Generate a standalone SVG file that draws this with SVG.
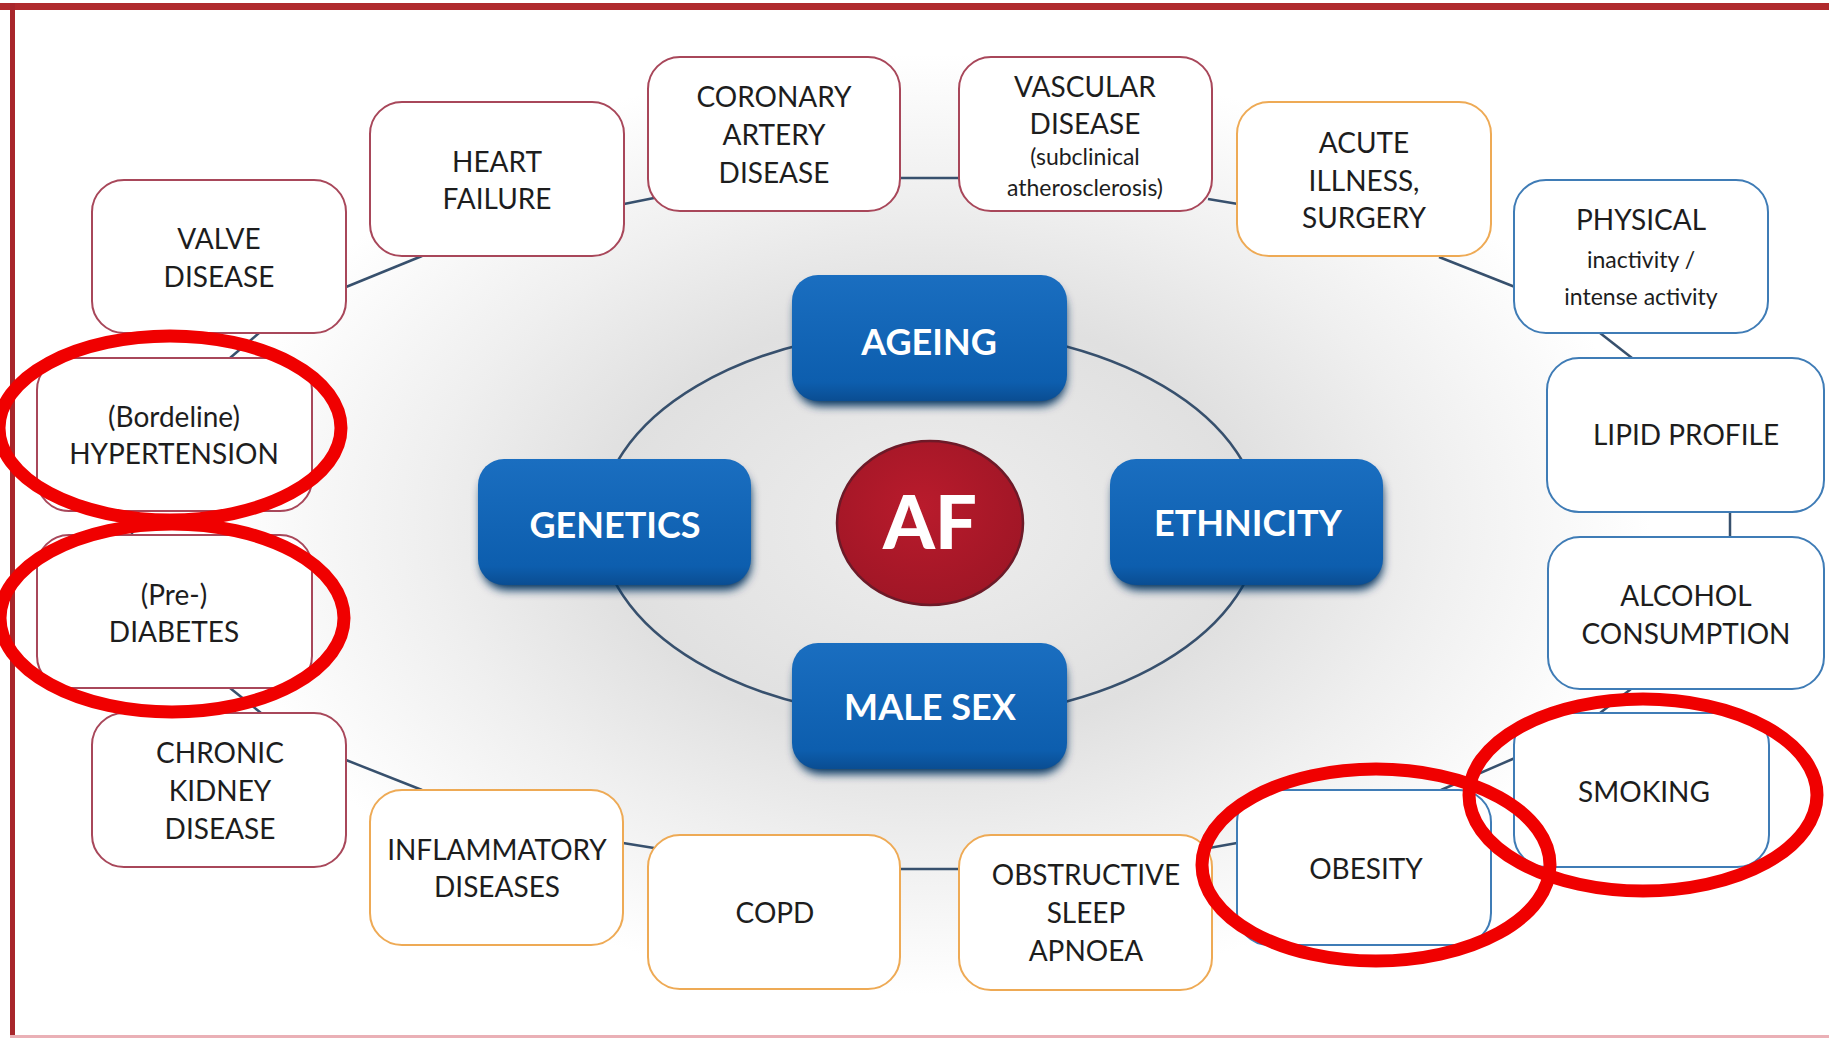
<svg xmlns="http://www.w3.org/2000/svg" width="1829" height="1038" viewBox="0 0 1829 1038">
<defs>
<radialGradient id="bg" cx="930" cy="524" r="1" gradientUnits="userSpaceOnUse" gradientTransform="translate(930 524) scale(720 470) translate(-930 -524)">
<stop offset="0" stop-color="#eeeeee"/>
<stop offset="0.45" stop-color="#e0e0e0"/>
<stop offset="0.7" stop-color="#efefef"/>
<stop offset="1" stop-color="#ffffff"/>
</radialGradient>
<linearGradient id="blue" x1="0" y1="0" x2="0" y2="1">
<stop offset="0" stop-color="#1a6ec0"/>
<stop offset="0.85" stop-color="#0d5eae"/>
<stop offset="1" stop-color="#0a4d92"/>
</linearGradient>
<radialGradient id="red" cx="0.45" cy="0.4" r="0.6">
<stop offset="0" stop-color="#b91b2c"/>
<stop offset="1" stop-color="#a01626"/>
</radialGradient>
<filter id="sh" x="-20%" y="-20%" width="140%" height="150%">
<feGaussianBlur stdDeviation="5"/>
</filter>
</defs>
<style>
.box{fill:#ffffff;stroke-width:2}
.r{stroke:#a8475a}
.o{stroke:#eeaa55}
.b{stroke:#3f7cb6}
.t{font-family:Lato,"Open Sans","Liberation Sans",sans-serif;font-size:28px;fill:#1d1d1d;text-anchor:middle}
.s{font-size:23px}
.wt{font-family:Lato,"Open Sans","Liberation Sans",sans-serif;font-weight:bold;font-size:36px;fill:#ffffff;text-anchor:middle}
.con{stroke:#37506d;stroke-width:2.5;fill:none}
.mark{fill:none;stroke:#f00000;stroke-width:13}
.bb{fill:url(#blue)}
.shd{fill:#06305e;filter:url(#sh)}
</style>
<rect x="0" y="0" width="1829" height="1038" fill="#ffffff"/>
<ellipse cx="930" cy="524" rx="720" ry="470" fill="url(#bg)"/>
<rect x="0" y="3" width="1829" height="7" fill="#b02a2d"/>
<rect x="10" y="3" width="5" height="1035" fill="#a8262b"/>
<rect x="10" y="1035" width="1819" height="3" fill="#eab0b6"/>

<g id="connectors">
<line class="con" x1="346" y1="287" x2="422" y2="256"/>
<line class="con" x1="624" y1="204" x2="654" y2="198"/>
<line class="con" x1="900" y1="178" x2="959" y2="178"/>
<line class="con" x1="1208" y1="199" x2="1238" y2="204"/>
<line class="con" x1="1439" y1="257" x2="1515" y2="287"/>
<line class="con" x1="1600" y1="333" x2="1632" y2="358"/>
<line class="con" x1="1730" y1="512" x2="1730" y2="537"/>
<line class="con" x1="1631" y1="689" x2="1600" y2="713"/>
<line class="con" x1="1515" y1="758" x2="1441" y2="790"/>
<line class="con" x1="1237" y1="843" x2="1209" y2="848"/>
<line class="con" x1="898" y1="869" x2="959" y2="869"/>
<line class="con" x1="654" y1="848" x2="623" y2="843"/>
<line class="con" x1="422" y1="790" x2="346" y2="760"/>
<line class="con" x1="261" y1="713" x2="230" y2="688"/>
<line class="con" x1="132" y1="511" x2="132" y2="535"/>
<line class="con" x1="230" y1="358" x2="259" y2="333"/>
<ellipse class="con" cx="930" cy="524" rx="330" ry="195" stroke-width="2"/>
</g>

<g id="valve"><rect class="box r" x="92" y="180" width="254" height="153" rx="32"/><text class="t" x="219" y="249">VALVE</text><text class="t" x="219" y="287">DISEASE</text></g>
<g id="heart-failure"><rect class="box r" x="370" y="102" width="254" height="154" rx="32"/><text class="t" x="497" y="172">HEART</text><text class="t" x="497" y="209">FAILURE</text></g>
<g id="coronary"><rect class="box r" x="648" y="57" width="252" height="154" rx="32"/><text class="t" x="774" y="107">CORONARY</text><text class="t" x="774" y="145">ARTERY</text><text class="t" x="774" y="183">DISEASE</text></g>
<g id="vascular"><rect class="box r" x="959" y="57" width="253" height="154" rx="32"/><text class="t" x="1085" y="97">VASCULAR</text><text class="t" x="1085" y="134">DISEASE</text><text class="t s" x="1085" y="165">(subclinical</text><text class="t s" x="1085" y="196">atherosclerosis)</text></g>
<g id="acute"><rect class="box o" x="1237" y="102" width="254" height="154" rx="32"/><text class="t" x="1364" y="153">ACUTE</text><text class="t" x="1364" y="191">ILLNESS,</text><text class="t" x="1364" y="228">SURGERY</text></g>
<g id="physical"><rect class="box b" x="1514" y="180" width="254" height="153" rx="32"/><text class="t" x="1641" y="230">PHYSICAL</text><text class="t s" x="1641" y="268">inactivity /</text><text class="t s" x="1641" y="305">intense activity</text></g>
<g id="lipid"><rect class="box b" x="1547" y="358" width="277" height="154" rx="32"/><text class="t" x="1686" y="445">LIPID PROFILE</text></g>
<g id="alcohol"><rect class="box b" x="1548" y="537" width="276" height="152" rx="32"/><text class="t" x="1686" y="606">ALCOHOL</text><text class="t" x="1686" y="644">CONSUMPTION</text></g>
<g id="smoking"><rect class="box b" x="1514" y="713" width="255" height="154" rx="32"/><text class="t" x="1644" y="802">SMOKING</text></g>
<g id="obesity"><rect class="box b" x="1237" y="790" width="254" height="155" rx="32"/><text class="t" x="1366" y="879">OBESITY</text></g>
<g id="osa"><rect class="box o" x="959" y="835" width="253" height="155" rx="32"/><text class="t" x="1086" y="885">OBSTRUCTIVE</text><text class="t" x="1086" y="923">SLEEP</text><text class="t" x="1086" y="961">APNOEA</text></g>
<g id="copd"><rect class="box o" x="648" y="835" width="252" height="154" rx="32"/><text class="t" x="775" y="923">COPD</text></g>
<g id="inflammatory"><rect class="box o" x="370" y="790" width="253" height="155" rx="32"/><text class="t" x="497" y="860">INFLAMMATORY</text><text class="t" x="497" y="897">DISEASES</text></g>
<g id="ckd"><rect class="box r" x="92" y="713" width="254" height="154" rx="32"/><text class="t" x="220" y="763">CHRONIC</text><text class="t" x="220" y="801">KIDNEY</text><text class="t" x="220" y="839">DISEASE</text></g>
<g id="diabetes"><rect class="box r" x="37" y="535" width="275" height="153" rx="32"/><text class="t" x="174" y="605">(Pre-)</text><text class="t" x="174" y="642">DIABETES</text></g>
<g id="hypertension"><rect class="box r" x="37" y="358" width="275" height="153" rx="32"/><text class="t" x="174" y="427">(Bordeline)</text><text class="t" x="174" y="464">HYPERTENSION</text></g>

<g id="ageing"><rect class="shd" x="795" y="284" width="271" height="122" rx="26"/><rect class="bb" x="792" y="275" width="275" height="126" rx="26"/><text class="wt" x="929" y="355">AGEING</text></g>
<g id="genetics"><rect class="shd" x="481" y="468" width="270" height="122" rx="26"/><rect class="bb" x="478" y="459" width="273" height="126" rx="26"/><text class="wt" x="615" y="538">GENETICS</text></g>
<g id="ethnicity"><rect class="shd" x="1113" y="468" width="270" height="122" rx="26"/><rect class="bb" x="1110" y="459" width="273" height="126" rx="26"/><text class="wt" x="1248" y="536">ETHNICITY</text></g>
<g id="male-sex"><rect class="shd" x="795" y="652" width="271" height="122" rx="26"/><rect class="bb" x="792" y="643" width="275" height="126" rx="26"/><text class="wt" x="930" y="720">MALE SEX</text></g>
<g id="af"><ellipse cx="930" cy="523" rx="93" ry="82" fill="url(#red)" stroke="#6d1a28" stroke-width="2.5"/><text class="wt" x="930" y="549" style="font-size:74px;font-weight:900">AF</text></g>

<g id="annotations">
<ellipse class="mark" cx="170" cy="428" rx="171" ry="92"/>
<ellipse class="mark" cx="172" cy="618" rx="172" ry="94"/>
<ellipse class="mark" cx="1376" cy="865" rx="174" ry="96"/>
<ellipse class="mark" cx="1643" cy="795" rx="174" ry="96"/>
</g>
</svg>
